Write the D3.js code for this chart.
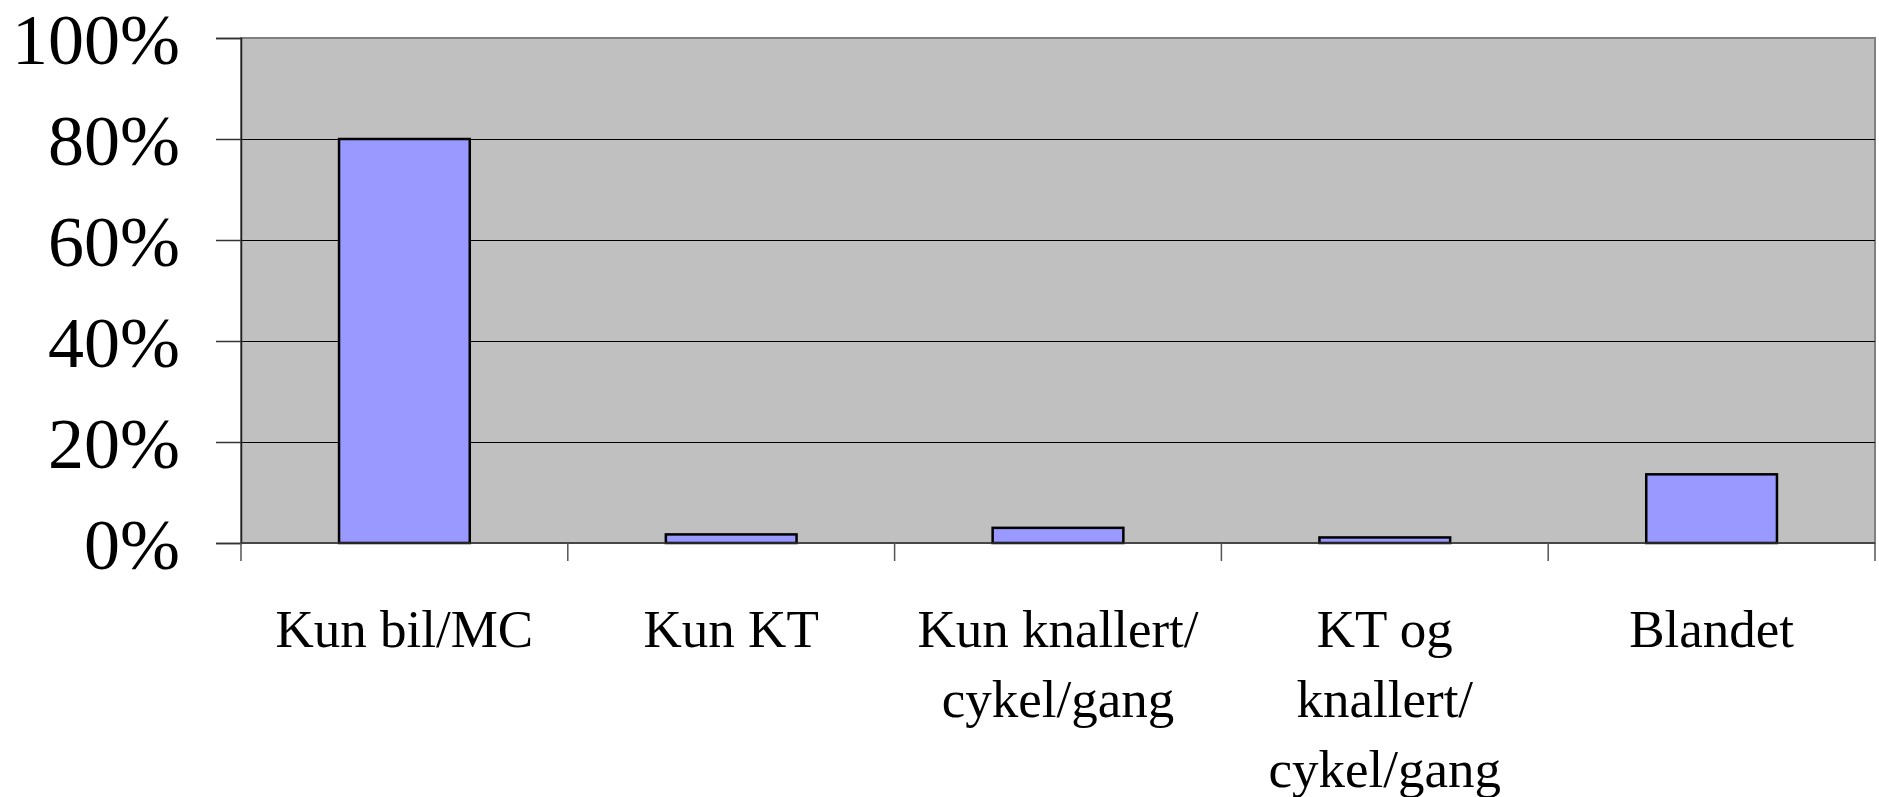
<!DOCTYPE html>
<html>
<head>
<meta charset="utf-8">
<script src="https://cdn.jsdelivr.net/npm/d3@7"></script>
<style>
  html, body { margin: 0; padding: 0; background: #ffffff; }
  svg { display: block; }
</style>
</head>
<body>
<svg id="chart" width="1879" height="797"></svg>
<script>
const categories = ["Kun bil/MC", "Kun KT", "Kun knallert/cykel/gang", "KT og knallert/cykel/gang", "Blandet"];
const categoryLines = [["Kun bil/MC"], ["Kun KT"], ["Kun knallert/", "cykel/gang"], ["KT og", "knallert/", "cykel/gang"], ["Blandet"]];
const values = [0.80, 0.017, 0.03, 0.011, 0.136];
const yTicks = [0, 0.2, 0.4, 0.6, 0.8, 1.0];

const svg = d3.select("#chart");
const plotLeft = 241, plotRight = 1875, plotTop = 38, plotBottom = 543;
const font = "'Liberation Serif', 'Times New Roman', serif";

const x = d3.scaleBand().domain(categories).range([plotLeft, plotRight]).paddingInner(0).paddingOuter(0);
const y = d3.scaleLinear().domain([0, 1]).range([plotBottom, plotTop]);

// plot background
svg.append("rect")
  .attr("x", plotLeft).attr("y", plotTop)
  .attr("width", plotRight - plotLeft).attr("height", plotBottom - plotTop)
  .attr("fill", "#C0C0C0")
  .attr("stroke", "#808080").attr("stroke-width", 2);

// gridlines
svg.append("g").selectAll("line")
  .data(yTicks.filter(t => t > 0 && t < 1))
  .join("line")
  .attr("x1", plotLeft).attr("x2", plotRight)
  .attr("y1", d => Math.round(y(d)) + 0.5).attr("y2", d => Math.round(y(d)) + 0.5)
  .attr("stroke", "#000000").attr("stroke-width", 1.2);

// bars
svg.append("g").selectAll("rect")
  .data(values)
  .join("rect")
  .attr("x", (d, i) => x(categories[i]) + x.bandwidth() * 0.3)
  .attr("width", x.bandwidth() * 0.4)
  .attr("y", d => y(d))
  .attr("height", d => y(0) - y(d))
  .attr("fill", "#9999FF")
  .attr("stroke", "#000000")
  .attr("stroke-width", 2.5);

// y axis
const yAxis = d3.axisLeft(y).tickValues(yTicks).tickFormat(d3.format(".0%")).tickSize(25).tickPadding(36);
const ya = svg.append("g").attr("transform", `translate(${plotLeft},0)`).call(yAxis);
ya.select(".domain").attr("stroke", "#222").attr("stroke-width", 1.5);
ya.selectAll(".tick line").attr("stroke", "#333").attr("stroke-width", 1.5);
ya.selectAll(".tick text")
  .attr("font-family", font).attr("font-size", 72).attr("fill", "#000")
  .attr("dy", "0.36em");

// x axis baseline
svg.append("line")
  .attr("x1", plotLeft).attr("x2", plotRight)
  .attr("y1", plotBottom).attr("y2", plotBottom)
  .attr("stroke", "#333").attr("stroke-width", 1.5);

// x tick marks at band boundaries
const boundaries = categories.map(c => x(c)).concat([plotRight]);
svg.append("g").selectAll("line")
  .data(boundaries)
  .join("line")
  .attr("x1", d => d).attr("x2", d => d)
  .attr("y1", plotBottom).attr("y2", plotBottom + 18)
  .attr("stroke", "#555").attr("stroke-width", 1.5);

// x labels
const labels = svg.append("g");
categoryLines.forEach((lines, i) => {
  const cx = x(categories[i]) + x.bandwidth() / 2;
  const t = labels.append("text")
    .attr("x", cx).attr("y", 647)
    .attr("text-anchor", "middle")
    .attr("font-family", font).attr("font-size", 53).attr("fill", "#000");
  lines.forEach((ln, j) => {
    t.append("tspan").attr("x", cx).attr("y", 647 + j * 70).text(ln);
  });
});
</script>
</body>
</html>
